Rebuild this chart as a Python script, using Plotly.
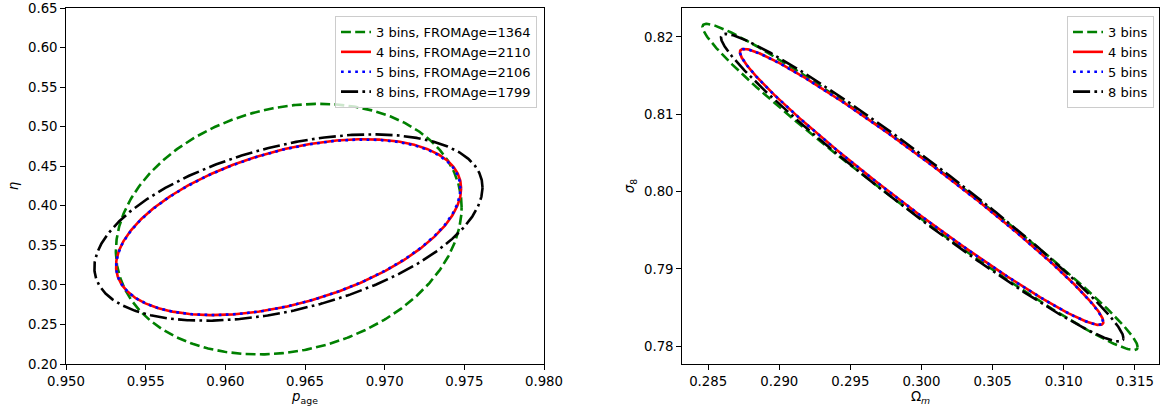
import numpy as np
import plotly.graph_objects as go

# ---------------- data ----------------
# Left panel: p_age vs eta confidence ellipses
left_labels = ["3 bins, FROMAge=1364", "4 bins, FROMAge=2110",
               "5 bins, FROMAge=2106", "8 bins, FROMAge=1799"]
left_cx = [0.96398, 0.96397, 0.96395, 0.96396]
left_cy = [0.3705, 0.3730, 0.3728, 0.3725]
left_sx = [0.01085, 0.01083, 0.01080, 0.01218]   # half extent in x
left_sy = [0.1584, 0.1112, 0.1110, 0.1178]       # half extent in y
left_rho = [0.175, 0.44, 0.44, 0.43]

# Right panel: Omega_m vs sigma_8 confidence ellipses
right_labels = ["3 bins", "4 bins", "5 bins", "8 bins"]
right_cx = [0.2999, 0.30001, 0.30000, 0.30005]
right_cy = [0.8006, 0.8006, 0.8006, 0.8005]
right_sx = [0.0153, 0.01278, 0.01276, 0.01415]
right_sy = [0.0211, 0.01786, 0.01784, 0.0199]
right_rho = [-0.9815, -0.977, -0.977, -0.977]

left_xticks = [0.950, 0.955, 0.960, 0.965, 0.970, 0.975, 0.980]
left_yticks = [0.20, 0.25, 0.30, 0.35, 0.40, 0.45, 0.50, 0.55, 0.60, 0.65]
right_xticks = [0.285, 0.290, 0.295, 0.300, 0.305, 0.310, 0.315]
right_yticks = [0.78, 0.79, 0.80, 0.81, 0.82]

# ---------------- styles ----------------
colors = ["#008000", "#ff0000", "#0000ff", "#000000"]
dashes = ["9.9px,4.3px", "solid", "2.7px,4.4px", "17.1px,4.3px,2.7px,4.3px"]
LW = 2.6
FONT = "DejaVu Sans"
FS = 13.3
LFS = 13.0
W, H = 1163, 411


def ellipse(cx, cy, sx, sy, rho, n=600):
    t = np.linspace(0, 2 * np.pi, n)
    d = np.arccos(rho)
    return cx + sx * np.cos(t), cy + sy * np.cos(t - d)


fig = go.Figure()
for i in range(4):
    x, y = ellipse(left_cx[i], left_cy[i], left_sx[i], left_sy[i], left_rho[i])
    fig.add_trace(go.Scatter(x=x, y=y, mode="lines", name=left_labels[i],
                             line=dict(color=colors[i], dash=dashes[i], width=LW),
                             xaxis="x", yaxis="y", legend="legend"))
for i in range(4):
    x, y = ellipse(right_cx[i], right_cy[i], right_sx[i], right_sy[i], right_rho[i])
    fig.add_trace(go.Scatter(x=x, y=y, mode="lines", name=right_labels[i],
                             line=dict(color=colors[i], dash=dashes[i], width=LW),
                             xaxis="x2", yaxis="y2", legend="legend2"))

ax_common = dict(showline=True, linecolor="black", linewidth=1.1, mirror=True,
                 ticks="outside", ticklen=4.7, tickwidth=1.1, tickcolor="black",
                 showgrid=False, zeroline=False, automargin=False,
                 tickfont=dict(family=FONT, size=FS, color="black"))

y_top = 1 - 8 / H
y_bot = 1 - 364 / H

fig.update_layout(
    width=W, height=H,
    margin=dict(l=0, r=0, t=0, b=0, autoexpand=False),
    paper_bgcolor="white", plot_bgcolor="white",
    font=dict(family=FONT, size=FS, color="black"),
    xaxis=dict(domain=[66 / W, 544 / W], range=[0.950, 0.980],
               tickvals=left_xticks, tickformat=".3f",
               title=dict(text="<i>p</i><sub>age</sub>", standoff=3,
                          font=dict(family=FONT, size=FS)),
               anchor="y", **ax_common),
    yaxis=dict(domain=[y_bot, y_top], range=[0.20, 0.65],
               tickvals=left_yticks, tickformat=".2f",
               title=dict(text="<i>η</i>", standoff=6,
                          font=dict(family=FONT, size=FS)),
               anchor="x", **ax_common),
    xaxis2=dict(domain=[682 / W, 1159 / W], range=[0.28316, 0.3167],
                tickvals=right_xticks, tickformat=".3f",
                title=dict(text="Ω<sub><i>m</i></sub>", standoff=3,
                           font=dict(family=FONT, size=FS)),
                anchor="y2", **ax_common),
    yaxis2=dict(domain=[y_bot, y_top], range=[0.7777, 0.82375],
                tickvals=right_yticks, tickformat=".2f",
                title=dict(text="<i>σ</i><sub>8</sub>", standoff=6,
                           font=dict(family=FONT, size=FS)),
                anchor="x2", **ax_common),
    legend=dict(x=537 / W, y=1 - 16 / H, xanchor="right", yanchor="top",
                bgcolor="rgba(255,255,255,0.8)", bordercolor="#cccccc",
                borderwidth=1, font=dict(family=FONT, size=LFS),
                tracegroupgap=0),
    legend2=dict(x=1154 / W, y=1 - 16 / H, xanchor="right", yanchor="top",
                 bgcolor="rgba(255,255,255,0.8)", bordercolor="#cccccc",
                 borderwidth=1, font=dict(family=FONT, size=LFS),
                 tracegroupgap=0),
    showlegend=True,
)

fig.write_html("out.html",
               config={"displayModeBar": False},
               post_script="document.body.style.margin='0px';"
                           "document.body.style.padding='0px';"
                           "document.body.style.overflow='hidden';")
